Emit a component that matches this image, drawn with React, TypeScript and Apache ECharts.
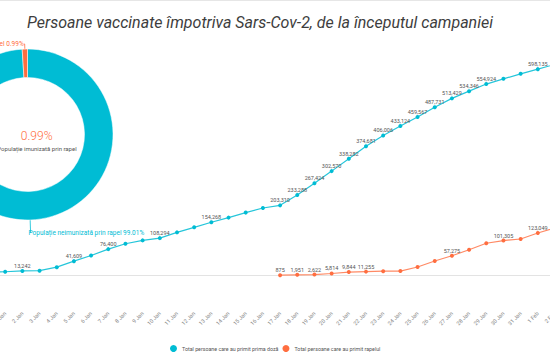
import React, { useEffect, useRef } from "react";
import * as echarts from "echarts";

const dates = [
  "31 Dec", "1 Jan", "2 Jan", "3 Jan", "4 Jan", "5 Jan", "6 Jan", "7 Jan", "8 Jan", "9 Jan",
  "10 Jan", "11 Jan", "12 Jan", "13 Jan", "14 Jan", "15 Jan", "16 Jan", "17 Jan", "18 Jan",
  "19 Jan", "20 Jan", "21 Jan", "22 Jan", "23 Jan", "24 Jan", "25 Jan", "26 Jan", "27 Jan",
  "28 Jan", "29 Jan", "30 Jan", "31 Jan", "1 Feb", "2 Feb",
];

const primaDoza = [
  9800, 10900, 13242, 14000, 24100, 41609, 58000, 76400, 92000, 101800,
  108294, 125000, 139600, 154268, 167800, 182300, 195700, 203310, 233288,
  267424, 302570, 338282, 374681, 406006, 433124, 459567, 487731, 513429,
  534346, 554924, 570000, 584500, 598135, 612000,
];

const rapel = [
  null, null, null, null, null, null, null, null, null, null,
  null, null, null, null, null, null, null, 875, 1951,
  2622, 5814, 9844, 11255, 12400, 12900, 24600, 42000, 57275,
  74800, 93400, 101305, 105800, 123049, 138000,
];

const primaLabeled = [
  "2 Jan", "5 Jan", "7 Jan", "10 Jan", "13 Jan", "17 Jan", "18 Jan", "19 Jan", "20 Jan",
  "21 Jan", "22 Jan", "23 Jan", "24 Jan", "25 Jan", "26 Jan", "27 Jan", "28 Jan", "29 Jan", "1 Feb",
];
const rapelLabeled = ["17 Jan", "18 Jan", "19 Jan", "20 Jan", "21 Jan", "22 Jan", "27 Jan", "30 Jan", "1 Feb"];

const seriesNames = ["Total persoane care au primit prima doză", "Total persoane care au primit rapelul"];
const pieNames = ["Populație neimunizată prin rapel", "Populație imunizată prin rapel"];
const pieValues = [99.01, 0.99];

const TITLE = "Persoane vaccinate împotriva Sars-Cov-2, de la începutul campaniei";

const CYAN = "#00bcd4";
const ORANGE = "#ff6e40";
const FONT = "Roboto";

const fmt = (v: number) => v.toLocaleString("en-US");

export default function App() {
  const ref = useRef<HTMLDivElement>(null);
  useEffect(() => {
    if (!ref.current) return;
    const chart = echarts.init(ref.current, undefined, { renderer: "svg" });
    const dataLabel = { show: true, position: "top", distance: 0, fontSize: 5.5, color: "#555", fontFamily: FONT, formatter: (p: any) => fmt(p.value) };
    chart.setOption({
      animation: false,
      textStyle: { fontFamily: FONT },
      title: {
        text: TITLE,
        left: "center",
        top: 8,
        textStyle: { fontSize: 16, fontStyle: "italic", fontWeight: "normal", color: "#3d3d3d", fontFamily: FONT, lineHeight: 18 },
      },
      legend: {
        data: seriesNames,
        left: 225,
        top: 340,
        icon: "circle",
        itemWidth: 7,
        itemHeight: 7,
        itemGap: 4,
        textStyle: { fontSize: 5.3, color: "#555", fontFamily: FONT },
      },
      grid: { left: 48, right: 25, top: 34, bottom: 86.5 },
      xAxis: {
        type: "category",
        data: dates,
        boundaryGap: false,
        axisLine: { lineStyle: { color: "#e3e3e3" } },
        axisTick: { show: false },
        axisLabel: { interval: 0, rotate: 45, margin: 37, fontSize: 5.5, color: "#888", fontFamily: FONT },
      },
      yAxis: { type: "value", min: 0, max: 700000, show: false, splitLine: { show: false } },
      graphic: [
        {
          type: "text",
          x: 96.7,
          y: 135.5,
          style: { text: "0.99%", fontSize: 12, fontWeight: 300, fill: ORANGE, fontFamily: FONT, align: "center", verticalAlign: "middle" },
        },
        {
          type: "text",
          x: 97,
          y: 148,
          style: { text: pieNames[1], fontSize: 6, fill: "#555", fontFamily: FONT, align: "center", verticalAlign: "middle" },
        },
      ],
      series: [
        {
          type: "pie",
          radius: [57, 85.5],
          center: [87.5, 134.5],
          startAngle: 90,
          clockwise: true,
          avoidLabelOverlap: false,
          itemStyle: { borderColor: "#fff", borderWidth: 0.5 },
          label: { show: true, fontSize: 6.5, fontFamily: FONT, formatter: (p: any) => `${p.name} ${p.value}%` },
          labelLine: { show: true, lineStyle: { width: 0.8 } },
          labelLayout: (p: any) => (p.dataIndex === 0 ? { dx: -7 } : { dx: 5 }),
          data: [
            {
              name: pieNames[0],
              value: pieValues[0],
              itemStyle: { color: CYAN },
              label: { color: CYAN },
              labelLine: { length: 13, length2: 0, lineStyle: { color: CYAN } },
            },
            {
              name: pieNames[1],
              value: pieValues[1],
              itemStyle: { color: ORANGE },
              label: { color: ORANGE },
              labelLine: { length: 5, length2: 1, lineStyle: { color: ORANGE } },
            },
          ],
        },
        {
          name: seriesNames[0],
          type: "line",
          data: primaDoza.map((v, i) => ({ value: v, label: { show: primaLabeled.includes(dates[i]) } })),
          symbol: "circle",
          symbolSize: 4,
          itemStyle: { color: CYAN },
          lineStyle: { color: "#26c6da", width: 1.2 },
          label: dataLabel,
        },
        {
          name: seriesNames[1],
          type: "line",
          data: rapel.map((v, i) => (v == null ? null : { value: v, label: { show: rapelLabeled.includes(dates[i]) } })),
          symbol: "circle",
          symbolSize: 4,
          itemStyle: { color: ORANGE },
          lineStyle: { color: "#ff8a65", width: 1.2 },
          label: dataLabel,
        },
      ],
    });
    return () => chart.dispose();
  }, []);
  return (
    <div style={{ position: "fixed", left: 0, top: 0, width: 550, height: 362, overflow: "hidden", background: "#fff" }}>
      <div ref={ref} style={{ position: "absolute", left: -60, top: 0, width: 640, height: 362 }} />
      <div style={{ position: "absolute", left: 0, top: 0, width: 550, height: 1, background: "#e6e6e6" }} />
    </div>
  );
}
